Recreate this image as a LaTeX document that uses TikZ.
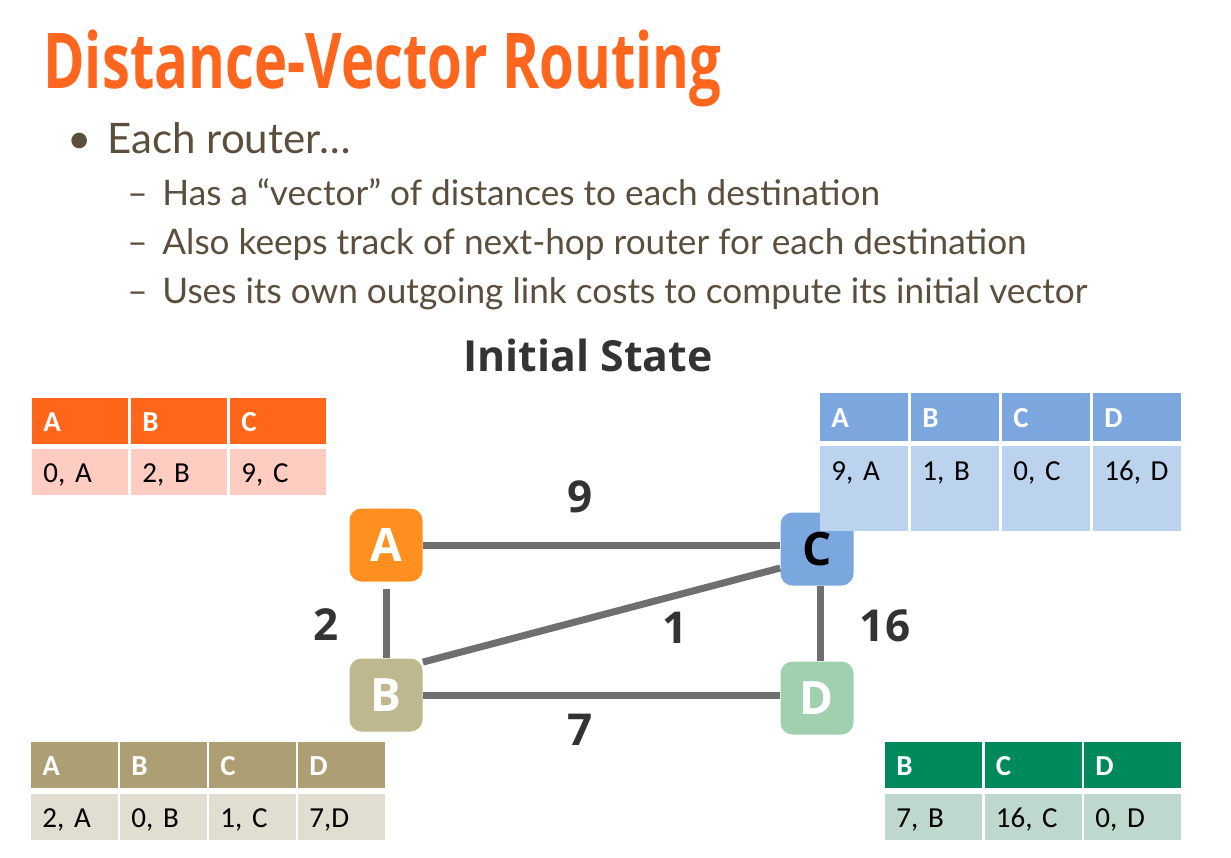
\documentclass[tikz,border=0pt]{standalone}
\usepackage{fontspec}
\setmainfont{Lato}
\newfontfamily\titlefont[FakeStretch=0.73]{Open Sans}
\newfontfamily\boldsans{Open Sans}
\newfontfamily\cellfont{Carlito}
\definecolor{titleorange}{HTML}{FE661E}
\definecolor{bodytext}{HTML}{5C4E3C}
\definecolor{headA}{HTML}{FF661A}
\definecolor{bodyA}{HTML}{FFCCC2}
\definecolor{routerA}{HTML}{FF8F1F}
\definecolor{headB}{HTML}{AD9E73}
\definecolor{bodyB}{HTML}{E0DDD1}
\definecolor{routerB}{HTML}{BFB78D}
\definecolor{headC}{HTML}{7BA7DE}
\definecolor{bodyC}{HTML}{BCD3EE}
\definecolor{routerC}{HTML}{7AA7DD}
\definecolor{headD}{HTML}{00895A}
\definecolor{bodyD}{HTML}{BFD8CD}
\definecolor{routerD}{HTML}{A0D0AD}
\definecolor{linkgray}{HTML}{6F6F6F}
\definecolor{weightgray}{HTML}{333333}

\begin{document}
\begin{tikzpicture}[x=0.5pt,y=-0.5pt,
  cell/.style={anchor=north west,inner xsep=5.5pt,inner ysep=0pt,text height=16.5pt,text depth=6.5pt,
    align=left,font=\cellfont\fontsize{14.5}{17}\selectfont},
  headcell/.style 2 args={cell,fill=#1,text width=#2,text=white,font=\cellfont\bfseries\fontsize{14.5}{17}\selectfont},
  bodycell/.style 2 args={cell,fill=#1,text width=#2,text=black},
  router/.style={rounded corners=6pt,minimum size=36.5pt,inner sep=0pt,text=white,
    font=\boldsans\bfseries\fontsize{23}{23}\selectfont},
  link/.style={draw=linkgray,line width=3.5pt},
  weight/.style={text=weightgray,font=\boldsans\bfseries\fontsize{22}{22}\selectfont},
  level1/.style={anchor=base west,inner sep=0pt,text=bodytext,font=\fontsize{21}{24}\selectfont},
  level2/.style={anchor=base west,inner sep=0pt,text=bodytext,font=\fontsize{17.6}{20}\selectfont}]
  \fill[white] (0,0) rectangle (1231,857);
  \useasboundingbox (0,0) rectangle (1231,857);

  \node[anchor=base west,inner sep=0pt,text=titleorange,font=\titlefont\bfseries\fontsize{38.5}{40}\selectfont]
    (title) at (43,88) {Distance-Vector Routing};
  \node[level1] (dot) at (67,153) {\textbullet};
  \node[level1] (each) at (107,153) {Each router…};
  \foreach \y/\t [count=\k] in {205/{Has a “vector” of distances to each destination},
      254/{Also keeps track of next-hop router for each destination},
      303/{Uses its own outgoing link costs to compute its initial vector}} {
    \node[level2] (dash\k) at (127,\y) {–};
    \node[level2] (sub\k) at (162,\y) {\t};
  }
  \node[anchor=base,inner sep=0pt,text=weightgray,font=\boldsans\bfseries\fontsize{21.4}{22}\selectfont]
    (state) at (588,371) {Initial State};

  \node[router,fill=routerA] (A) at (386,545) {A};
  \node[router,fill=routerB] (B) at (386,695) {B};
  \node[router,fill=routerC,text=black] (C) at (817,549) {C};
  \node[router,fill=routerD] (D) at (817,698) {D};

  \draw[link] (A.east) -- (A.east -| C.west);
  \draw[link,shorten <=3.5pt] (A) -- (B);
  \draw[link] ([yshift=-2pt]B.north east) -- ([yshift=-9.5pt]C.west);
  \draw[link] ([xshift=1.5pt]C.south) -- ([xshift=1.5pt]D.north);
  \draw[link] (B.east) -- (B.east -| D.west);

  \node[weight] (wAC) at (580,497) {9};
  \node[weight] (wAB) at (326,625) {2};
  \node[weight] (wBC) at (675,628) {1};
  \node[weight] (wCD) at (885,626) {16};
  \node[weight] (wBD) at (580,730) {7};

  \foreach \i/\h/\v in {0/A/{0, A},1/B/{2, B},2/C/{9, C}} {
    \node[headcell={headA}{37pt}] (tA-h\i) at (32+99*\i,398) {\h};
    \node[bodycell={bodyA}{37pt}] (tA-b\i) at (32+99*\i,449) {\v};
  }
  \foreach \i/\h/\v in {0/A/{9, A},1/B/{1, B},2/C/{0, C},3/D/{16, D}} {
    \node[headcell={headC}{33pt},text height=17pt,text depth=7pt] (tC-h\i) at (820+91*\i,393) {\h};
    \node[bodycell={bodyC}{33pt},text height=17pt,text depth=25.5pt] (tC-b\i) at (820+91*\i,446) {\v};
  }
  \foreach \i/\h/\v in {0/A/{2, A},1/B/{0, B},2/C/{1, C},3/D/{7,D}} {
    \node[headcell={headB}{32.5pt}] (tB-h\i) at (31+89*\i,742) {\h};
    \node[bodycell={bodyB}{32.5pt}] (tB-b\i) at (31+89*\i,794) {\v};
  }
  \foreach \i/\h/\v in {0/B/{7, B},1/C/{16, C},2/D/{0, D}} {
    \node[headcell={headD}{37.5pt}] (tD-h\i) at (885+99.5*\i,742) {\h};
    \node[bodycell={bodyD}{37.5pt}] (tD-b\i) at (885+99.5*\i,794) {\v};
  }
\end{tikzpicture}
\end{document}
